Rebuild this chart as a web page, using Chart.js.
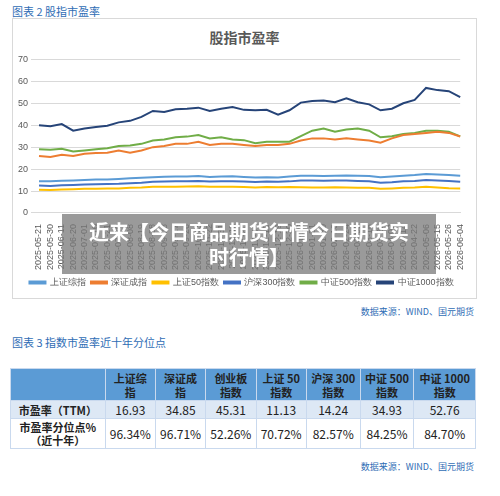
<!DOCTYPE html>
<html>
<head>
<meta charset="utf-8">
<script src="https://cdn.jsdelivr.net/npm/chart.js@4"></script>
<style>
  body { margin: 0; width: 500px; height: 496px; background: #fff; font-family: "Noto Sans CJK SC", sans-serif; position: relative; overflow: hidden; }
  .cap { position: absolute; left: 12px; font-size: 11px; color: #2f6db5; }
  .src { position: absolute; right: 26px; font-size: 9px; color: #2f6db5; }
  #box { position: absolute; left: 12px; top: 18px; width: 463px; height: 279px; border: 1px solid #d9d9d9; }
  #title { position: absolute; top: 8px; width: 100%; text-align: center; font-size: 14px; font-weight: bold; color: #595959; }
  #wrap { position: absolute; left: 2px; top: 32px; width: 459px; height: 246px; }
  table { position: absolute; left: 10px; top: 368px; width: 466px; border-collapse: collapse; font-size: 11px; color: #222; }
  td { border: 1px solid #c9d9ee; text-align: center; padding: 0; }
  tr.h td { background: #5b9bd5; font-weight: bold; height: 31px; line-height: 14px; }
  tr.r1 td { background: #dde8f5; height: 15px; font-size: 12px; }
  tr.r2 td { background: #fff; height: 29px; line-height: 13px; font-size: 12px; }
  td.l { font-weight: bold; font-size: 11px !important; }
  #over { position: absolute; left: 62px; top: 214px; width: 374px; height: 60px; background: rgba(120,120,120,0.75); color: #fff; font-weight: bold; font-size: 20px; text-align: center; line-height: 25px; padding-top: 5px; box-sizing: border-box; }
</style>
</head>
<body>
<div class="cap" style="top:3px">图表 2 股指市盈率</div>
<div id="box">
  <div id="title">股指市盈率</div>
  <div id="wrap"><canvas id="pe"></canvas></div>
</div>
<div class="src" style="top:305px">数据来源：WIND、国元期货</div>
<div class="cap" style="top:334px">图表 3 指数市盈率近十年分位点</div>
<table>
  <tr class="h"><td></td><td>上证综<br>指</td><td>深证成<br>指</td><td>创业板<br>指数</td><td>上证 50<br>指数</td><td>沪深 300<br>指数</td><td>中证 500<br>指数</td><td>中证 1000<br>指数</td></tr>
  <tr class="r1"><td class="l">市盈率（TTM）</td><td>16.93</td><td>34.85</td><td>45.31</td><td>11.13</td><td>14.24</td><td>34.93</td><td>52.76</td></tr>
  <tr class="r2"><td class="l">市盈率分位点%<br>（近十年）</td><td>96.34%</td><td>96.71%</td><td>52.26%</td><td>70.72%</td><td>82.57%</td><td>84.25%</td><td>84.70%</td></tr>
</table>
<div class="src" style="top:460px">数据来源：WIND、国元期货</div>
<div id="over">近来【今日商品期货行情今日期货实<br>时行情】</div>

<script>
const dates = ['2025-05-21','2025-05-30','2025-06-11','2025-06-20','2025-07-01','2025-07-10','2025-07-21','2025-07-30',
  '2025-08-08','2025-08-19','2025-08-28','2025-09-08','2025-09-17','2025-09-26','2025-10-13','2025-10-22','2025-10-31',
  '2025-11-11','2025-11-20','2025-12-01','2025-12-10','2025-12-19','2025-12-30','2026-01-12','2026-01-21','2026-01-30',
  '2026-02-10','2026-02-24','2026-03-05','2026-03-16','2026-03-25','2026-04-03','2026-04-14','2026-04-22','2026-05-06',
  '2026-05-15','2026-05-26','2026-06-04'];

const szzs = [14.5,14.5,14.7,14.8,15,15.2,15.3,15.5,15.8,16,16.3,16.5,16.6,16.6,16.8,16.4,16.6,16.7,16.4,16.2,16.3,16.2,16.6,17,17,16.9,17,17.1,17,16.9,16.3,16.6,17,17.3,17.8,17.5,17.3,16.93];
const szcz = [26,25.5,26.5,26,27,27.3,27.5,28.5,27.5,28.5,30,30.5,31.5,31.5,32.5,31,31.5,31.5,31,30.5,31,31,31.5,33,34,34,33.5,34,33.5,33,32,34,35.5,36,36.5,37,36.5,34.85];
const sz50 = [10.6,10.5,10.7,10.8,11,11,11.1,11.2,11.5,11.6,11.9,12,12,12.1,12.2,11.9,12,12,11.8,11.6,11.8,11.7,11.8,11.7,11.6,11.6,11.7,11.6,11.5,11.5,11,11.2,11.5,11.6,11.9,11.6,11.3,11.13];
const hs300 = [12.5,12.3,12.6,12.8,13,13.1,13.2,13.3,13.6,13.8,14.2,14.3,14.5,14.5,14.6,14.3,14.4,14.5,14.3,14.1,14.3,14.2,14.4,14.8,14.8,14.7,14.8,14.8,14.6,14.5,13.8,14,14.4,14.6,15,14.8,14.6,14.24];
const zz500 = [29,28.8,29.3,28,28.5,29,29.5,30.5,30.8,31.5,33,33.5,34.5,34.8,35.5,34,34.5,33.5,33.2,31.8,32.5,32.5,32.5,35,37.5,38.5,37,38,38.5,37.5,34.5,35,36,36.5,37.5,37.5,37,34.93];
const zz1000 = [40,39.5,40.5,37.5,38.5,39.2,39.8,41.3,42,43.8,46.5,46,47.3,47.5,48,46.5,47.5,48.3,47,46.8,47,44.8,46.8,50.3,51,51.3,50.5,52.3,50.5,49.5,46.8,47.5,50,51.5,57,56,55.5,52.76];

const yTicks = [0, 10, 20, 30, 40, 50, 60, 70];

function line(label, data, color) {
  return { label, data, borderColor: color, backgroundColor: color, borderWidth: 2, pointRadius: 0, tension: 0 };
}

new Chart(document.getElementById('pe'), {
  type: 'line',
  data: {
    labels: dates,
    datasets: [
      line('上证综指', szzs, '#5b9bd5'),
      line('深证成指', szcz, '#ed7d31'),
      line('上证50指数', sz50, '#ffc000'),
      line('沪深300指数', hs300, '#4472c4'),
      line('中证500指数', zz500, '#70ad47'),
      line('中证1000指数', zz1000, '#264478')
    ]
  },
  options: {
    responsive: true,
    maintainAspectRatio: false,
    animation: false,
    layout: { padding: { right: 6, top: 2 } },
    plugins: {
      legend: {
        position: 'bottom',
        labels: { boxWidth: 16, boxHeight: 2, padding: 5, color: '#595959', font: { size: 9 } }
      },
      tooltip: { enabled: false }
    },
    scales: {
      x: {
        grid: { display: false },
        border: { color: '#d9d9d9' },
        ticks: { autoSkip: false, maxRotation: 90, minRotation: 90, color: '#595959', font: { size: 9 } }
      },
      y: {
        min: 0, max: 70,
        afterBuildTicks: ax => { ax.ticks = yTicks.map(v => ({ value: v })); },
        grid: { color: '#d9d9d9' },
        border: { display: false },
        ticks: { color: '#595959', font: { size: 9 } }
      }
    }
  }
});
</script>
</body>
</html>
